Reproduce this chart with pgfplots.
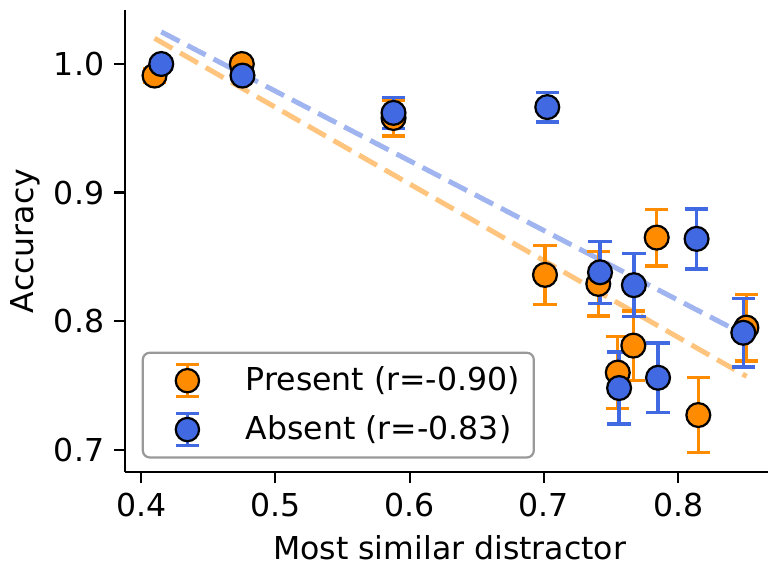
\documentclass[border=0pt]{standalone}
\usepackage{pgfplots}
\pgfplotsset{compat=1.18}
\usepackage{pgfplotstable}
\usepackage{fontspec}
\setmainfont{DejaVu Sans}
\definecolor{dorange}{HTML}{FF8C00}
\definecolor{rblue}{HTML}{4169E1}

\pgfplotstableread{
x y e
0.4100 0.9910 0.005
0.4750 1.0000 0.004
0.5880 0.9580 0.014
0.7008 0.8360 0.023
0.7405 0.8290 0.025
0.7550 0.7600 0.028
0.7666 0.7810 0.027
0.7840 0.8650 0.022
0.8150 0.7270 0.029
0.8508 0.7950 0.026
}\present

\pgfplotstableread{
x y e
0.4150 1.0000 0.004
0.4755 0.9910 0.004
0.5880 0.9620 0.012
0.7025 0.9665 0.0115
0.7418 0.8380 0.024
0.7560 0.7480 0.028
0.7670 0.8280 0.0245
0.7850 0.7560 0.027
0.8137 0.8640 0.0233
0.8485 0.7910 0.0266
}\absent

\begin{document}
\begin{tikzpicture}
\useasboundingbox (-45bp,-34.2bp) rectangle ++(276.48bp,204.12bp);
\begin{axis}[
  at={(0,0)}, anchor=south west,
  scale only axis, width=231.48bp, height=166.32bp,
  xmin=0.388, xmax=0.8669, ymin=0.6827, ymax=1.042,
  axis x line*=bottom, axis y line*=left,
  axis line style={line width=0.8bp, black},
  xtick={0.4,0.5,0.6,0.7,0.8}, ytick={0.7,0.8,0.9,1.0},
  tick align=outside, major tick length=4bp,
  tick style={line width=0.8bp, black},
  /pgf/number format/.cd, fixed, fixed zerofill, precision=1, assume math mode=true, /pgfplots/.cd,
  tick label style={font=\fontsize{11.4}{13.7}\selectfont},
  label style={font=\fontsize{11.4}{13.7}\selectfont},
  xlabel={Most similar distractor}, ylabel={Accuracy},
  xlabel style={at={(axis description cs:0.505,0)}, anchor=center, yshift=-27.4bp},
  ylabel style={at={(axis description cs:-0.1555,0.5)}, anchor=center},
  legend style={at={(axis description cs:0.026,0.029)}, anchor=south west,
    draw=gray!80, line width=0.8bp, rounded corners=2.5bp, fill=white,
    font=\fontsize{11.4}{13.7}\selectfont, inner xsep=3bp, inner ysep=3bp, row sep=3.5bp},
  legend cell align=left,
]
\addplot[dorange, opacity=0.5, line width=1.8bp, dash pattern=on 7.4bp off 3.2bp, forget plot]
  coordinates {(0.410,1.020) (0.851,0.757)};
\addplot[rblue, opacity=0.5, line width=1.8bp, dash pattern=on 7.4bp off 3.2bp, forget plot]
  coordinates {(0.415,1.025) (0.8485,0.790)};

\addplot[only marks, mark=*, mark size=4.3bp,
  mark options={fill=dorange, draw=black, line width=0.8bp},
  legend image code/.code={
    \draw[dorange, line width=1.2bp, sharp corners] (12.65bp,-5.7bp) -- (12.65bp,5.7bp) (8.45bp,-5.7bp) -- (16.85bp,-5.7bp) (8.45bp,5.7bp) -- (16.85bp,5.7bp);
    \draw[black, fill=dorange, line width=0.8bp] (12.65bp,0) circle (4.2bp);
    \path (0,0) (31.3bp,0);
  },
  error bars/.cd, y dir=both, y explicit,
  error bar style={dorange, line width=1.2bp},
  error mark options={dorange, rotate=90, mark size=4.2bp, line width=1.2bp}]
  table[x=x, y=y, y error=e]{\present};
\addlegendentry{Present (r=-0.90)}

\addplot[only marks, mark=*, mark size=4.3bp,
  mark options={fill=rblue, draw=black, line width=0.8bp},
  legend image code/.code={
    \draw[rblue, line width=1.2bp, sharp corners] (12.65bp,-5.7bp) -- (12.65bp,5.7bp) (8.45bp,-5.7bp) -- (16.85bp,-5.7bp) (8.45bp,5.7bp) -- (16.85bp,5.7bp);
    \draw[black, fill=rblue, line width=0.8bp] (12.65bp,0) circle (4.2bp);
    \path (0,0) (31.3bp,0);
  },
  error bars/.cd, y dir=both, y explicit,
  error bar style={rblue, line width=1.2bp},
  error mark options={rblue, rotate=90, mark size=4.2bp, line width=1.2bp}]
  table[x=x, y=y, y error=e]{\absent};
\addlegendentry{Absent (r=-0.83)}
\end{axis}
\end{tikzpicture}
\end{document}
